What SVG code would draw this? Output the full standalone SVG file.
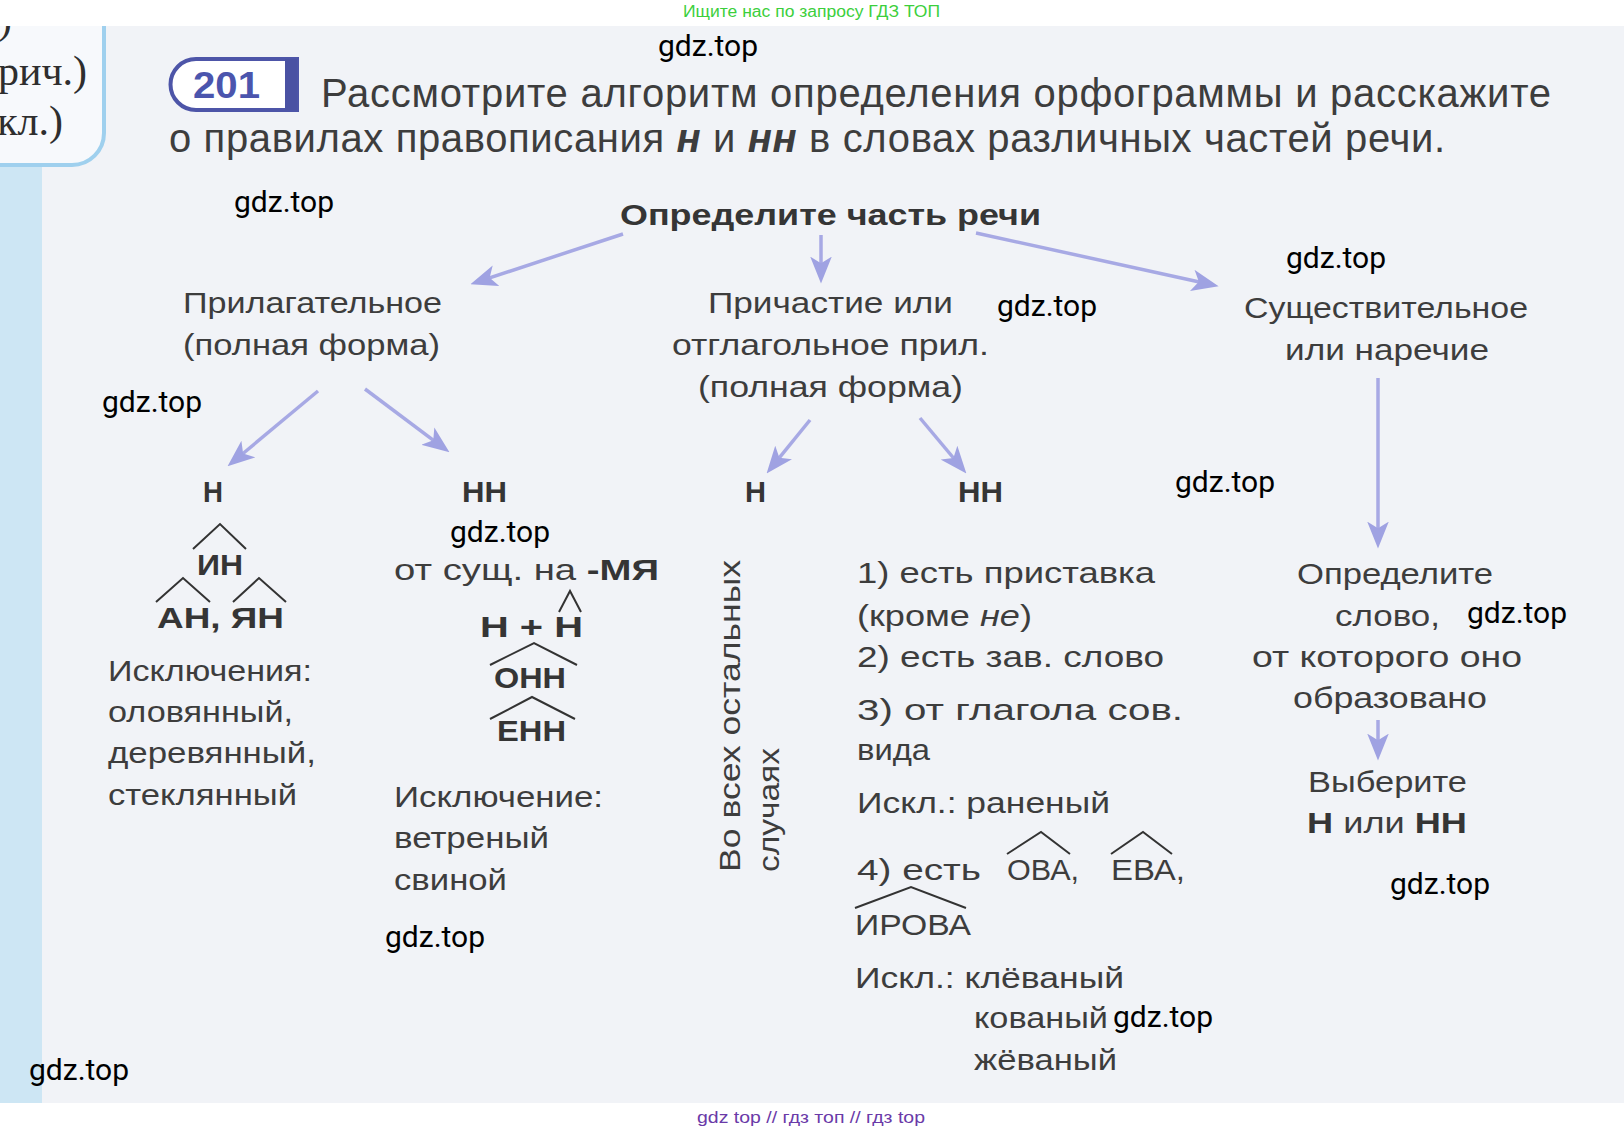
<svg xmlns="http://www.w3.org/2000/svg" width="1624" height="1132" viewBox="0 0 1624 1132">
<style>
.t{font-family:"Liberation Sans",Arial,sans-serif;font-size:30px;fill:#3d3d3d}
.b{font-weight:bold;fill:#353535}
.serif{font-family:"Liberation Serif","Times New Roman",serif;font-size:42px;fill:#2e2e2e}
.wm{font-family:Roboto,"Liberation Sans",sans-serif;font-size:30px;fill:#000}
.arr{stroke:#a7a9e4;stroke-width:3.5;fill:none;marker-end:url(#ah)}
.car{stroke:#333;stroke-width:2;fill:none}
</style>
<defs>
<marker id="ah" viewBox="0 0 20 16" refX="8" refY="8" markerWidth="27" markerHeight="22" markerUnits="userSpaceOnUse" orient="auto">
<path d="M0,0 L20,8 L0,16 L5,8 Z" fill="#9fa2e2"/>
</marker>
</defs>
<rect x="0" y="0" width="1624" height="1132" fill="#f1f3f7"/>
<g id="margin">
<rect x="0" y="160" width="42" height="943" fill="#cde6f4"/>
<path d="M-5,20 L104,20 L104,133 A32,32 0 0 1 72,165 L-5,165 Z" fill="#f7f9fc" stroke="#9fd0ee" stroke-width="4"/>
<text class="serif" x="12" y="33" text-anchor="end">ь,)</text>
<text class="serif" x="87" y="85" text-anchor="end">рич.)</text>
<text class="serif" x="63" y="135" text-anchor="end">кл.)</text>
</g>
<rect x="0" y="0" width="1624" height="26" fill="#fff"/>
<rect x="0" y="1103" width="1624" height="29" fill="#fff"/>
<text x="683" y="17" font-family="'Liberation Sans Narrow','Liberation Sans',sans-serif" font-size="16" fill="#3ccf3c" textLength="257" lengthAdjust="spacingAndGlyphs">Ищите нас по запросу ГДЗ ТОП</text>
<text x="697" y="1123" font-family="'Liberation Sans Narrow','Liberation Sans',sans-serif" font-size="17" fill="#6a3aa8" textLength="228" lengthAdjust="spacingAndGlyphs">gdz top // гдз топ // гдз top</text>

<g id="task">
<path d="M297,59 L196,59 A25.5,25.5 0 0 0 196,110 L297,110 Z" fill="#fff" stroke="#4d55a8" stroke-width="4"/>
<rect x="285" y="59" width="12" height="51" fill="#4a52a3"/>
<text x="193" y="98" font-family="'Liberation Sans',Arial,sans-serif" font-size="36" font-weight="bold" fill="#4b55ad" textLength="67" lengthAdjust="spacingAndGlyphs">201</text>
<text class="t" x="321" y="107" textLength="1230" lengthAdjust="spacing" style="font-size:40px">Рассмотрите алгоритм определения орфограммы и расскажите</text>
<text class="t" x="169" y="152" textLength="1276" lengthAdjust="spacing" style="font-size:40px">о правилах правописания <tspan font-weight="bold" font-style="italic">н</tspan> и <tspan font-weight="bold" font-style="italic">нн</tspan> в словах различных частей речи.</text>
</g>

<g id="connectors">
<line class="arr" x1="623" y1="234" x2="485.8" y2="279.1"/>
<line class="arr" x1="821" y1="235" x2="821" y2="267.4"/>
<line class="arr" x1="976" y1="233" x2="1202.8" y2="282.7"/>
<line class="arr" x1="318" y1="391" x2="240" y2="456"/>
<line class="arr" x1="365" y1="389" x2="436.5" y2="442.6"/>
<line class="arr" x1="810" y1="420" x2="776.8" y2="460.9"/>
<line class="arr" x1="920" y1="418" x2="956" y2="461"/>
<line class="arr" x1="1378" y1="378" x2="1378" y2="532.4"/>
<line class="arr" x1="1378" y1="720" x2="1378" y2="744.4"/>
</g>

<g id="root">
<text class="t b" x="620" y="225" style="font-size:29px" textLength="421" lengthAdjust="spacingAndGlyphs">Определите часть речи</text>
</g>

<g id="adj">
<text class="t" x="183" y="313" textLength="259" lengthAdjust="spacingAndGlyphs">Прилагательное</text>
<text class="t" x="183" y="355" textLength="257" lengthAdjust="spacingAndGlyphs">(полная форма)</text>
</g>

<g id="part">
<text class="t" x="708" y="313" textLength="245" lengthAdjust="spacingAndGlyphs">Причастие или</text>
<text class="t" x="672" y="355" textLength="317" lengthAdjust="spacingAndGlyphs">отглагольное прил.</text>
<text class="t" x="698" y="397" textLength="265" lengthAdjust="spacingAndGlyphs">(полная форма)</text>
</g>

<g id="noun">
<text class="t" x="1244" y="318" textLength="284" lengthAdjust="spacingAndGlyphs">Существительное</text>
<text class="t" x="1285" y="360" textLength="204" lengthAdjust="spacingAndGlyphs">или наречие</text>
</g>

<g id="adj-n">
<text class="t b" x="203" y="502" textLength="20" lengthAdjust="spacingAndGlyphs">Н</text>
<polyline class="car" points="193,549 220,524 246,549"/>
<text class="t b" x="197" y="575" textLength="46" lengthAdjust="spacingAndGlyphs">ИН</text>
<polyline class="car" points="156,602 183,578 210,602"/>
<polyline class="car" points="233,602 259,578 286,602"/>
<text class="t b" x="157" y="628" textLength="127" lengthAdjust="spacingAndGlyphs">АН, ЯН</text>
<text class="t" x="108" y="681" textLength="204" lengthAdjust="spacingAndGlyphs">Исключения:</text>
<text class="t" x="108" y="722" textLength="185" lengthAdjust="spacingAndGlyphs">оловянный,</text>
<text class="t" x="108" y="763" textLength="208" lengthAdjust="spacingAndGlyphs">деревянный,</text>
<text class="t" x="108" y="805" textLength="189" lengthAdjust="spacingAndGlyphs">стеклянный</text>
</g>

<g id="adj-nn">
<text class="t b" x="462" y="502" textLength="45" lengthAdjust="spacingAndGlyphs">НН</text>
<text class="t" x="394" y="580" textLength="265" lengthAdjust="spacingAndGlyphs">от сущ. на <tspan font-weight="bold" fill="#353535">-МЯ</tspan></text>
<polyline class="car" points="559,612 570,591 581,612"/>
<text class="t b" x="480" y="637" textLength="103" lengthAdjust="spacingAndGlyphs">Н + Н</text>
<polyline class="car" points="490,665 534,643 577,665"/>
<text class="t b" x="494" y="688" textLength="72" lengthAdjust="spacingAndGlyphs">ОНН</text>
<polyline class="car" points="490,719 532,697 575,719"/>
<text class="t b" x="497" y="741" textLength="69" lengthAdjust="spacingAndGlyphs">ЕНН</text>
<text class="t" x="394" y="807" textLength="209" lengthAdjust="spacingAndGlyphs">Исключение:</text>
<text class="t" x="394" y="848" textLength="155" lengthAdjust="spacingAndGlyphs">ветреный</text>
<text class="t" x="394" y="890" textLength="113" lengthAdjust="spacingAndGlyphs">свиной</text>
</g>

<g id="part-n">
<text class="t b" x="745" y="502" textLength="21" lengthAdjust="spacingAndGlyphs">Н</text>
<text class="t" transform="translate(740,872) rotate(-90)" textLength="312" lengthAdjust="spacingAndGlyphs">Во всех остальных</text>
<text class="t" transform="translate(779,872) rotate(-90)" textLength="124" lengthAdjust="spacingAndGlyphs">случаях</text>
</g>

<g id="part-nn">
<text class="t b" x="958" y="502" textLength="45" lengthAdjust="spacingAndGlyphs">НН</text>
<text class="t" x="857" y="583" textLength="298" lengthAdjust="spacingAndGlyphs">1) есть приставка</text>
<text class="t" x="857" y="626" textLength="175" lengthAdjust="spacingAndGlyphs">(кроме <tspan font-style="italic">не</tspan>)</text>
<text class="t" x="857" y="667" textLength="307" lengthAdjust="spacingAndGlyphs">2) есть зав. слово</text>
<text class="t" x="857" y="720" textLength="326" lengthAdjust="spacingAndGlyphs">3) от глагола сов.</text>
<text class="t" x="857" y="760" textLength="73" lengthAdjust="spacingAndGlyphs">вида</text>
<text class="t" x="857" y="813" textLength="253" lengthAdjust="spacingAndGlyphs">Искл.: раненый</text>
<text class="t" x="857" y="880" textLength="124" lengthAdjust="spacingAndGlyphs">4) есть</text>
<polyline class="car" points="1007,854 1041,832 1070,854"/>
<text class="t" x="1007" y="880" textLength="72" lengthAdjust="spacingAndGlyphs">ОВА,</text>
<polyline class="car" points="1111,854 1143,832 1172,854"/>
<text class="t" x="1111" y="880" textLength="74" lengthAdjust="spacingAndGlyphs">ЕВА,</text>
<polyline class="car" points="855,908 911,887 966,908"/>
<text class="t" x="855" y="935" textLength="116" lengthAdjust="spacingAndGlyphs">ИРОВА</text>
<text class="t" x="855" y="988" textLength="269" lengthAdjust="spacingAndGlyphs">Искл.: клёваный</text>
<text class="t" x="974" y="1028" textLength="134" lengthAdjust="spacingAndGlyphs">кованый</text>
<text class="t" x="974" y="1070" textLength="143" lengthAdjust="spacingAndGlyphs">жёваный</text>
</g>

<g id="noun-rule">
<text class="t" x="1297" y="584" textLength="196" lengthAdjust="spacingAndGlyphs">Определите</text>
<text class="t" x="1335" y="626" textLength="105" lengthAdjust="spacingAndGlyphs">слово,</text>
<text class="t" x="1252" y="667" textLength="270" lengthAdjust="spacingAndGlyphs">от которого оно</text>
<text class="t" x="1293" y="708" textLength="194" lengthAdjust="spacingAndGlyphs">образовано</text>
</g>

<g id="choose">
<text class="t" x="1308" y="792" textLength="159" lengthAdjust="spacingAndGlyphs">Выберите</text>
<text class="t" x="1307" y="833" textLength="160" lengthAdjust="spacingAndGlyphs"><tspan font-weight="bold" fill="#353535">Н</tspan> или <tspan font-weight="bold" fill="#353535">НН</tspan></text>
</g>

<g id="watermarks">
<text class="wm" x="658" y="56">gdz.top</text>
<text class="wm" x="234" y="212">gdz.top</text>
<text class="wm" x="102" y="412">gdz.top</text>
<text class="wm" x="450" y="542">gdz.top</text>
<text class="wm" x="997" y="316">gdz.top</text>
<text class="wm" x="1286" y="268">gdz.top</text>
<text class="wm" x="1175" y="492">gdz.top</text>
<text class="wm" x="1467" y="623">gdz.top</text>
<text class="wm" x="1390" y="894">gdz.top</text>
<text class="wm" x="385" y="947">gdz.top</text>
<text class="wm" x="1113" y="1027">gdz.top</text>
<text class="wm" x="29" y="1080">gdz.top</text>
</g>
</svg>
